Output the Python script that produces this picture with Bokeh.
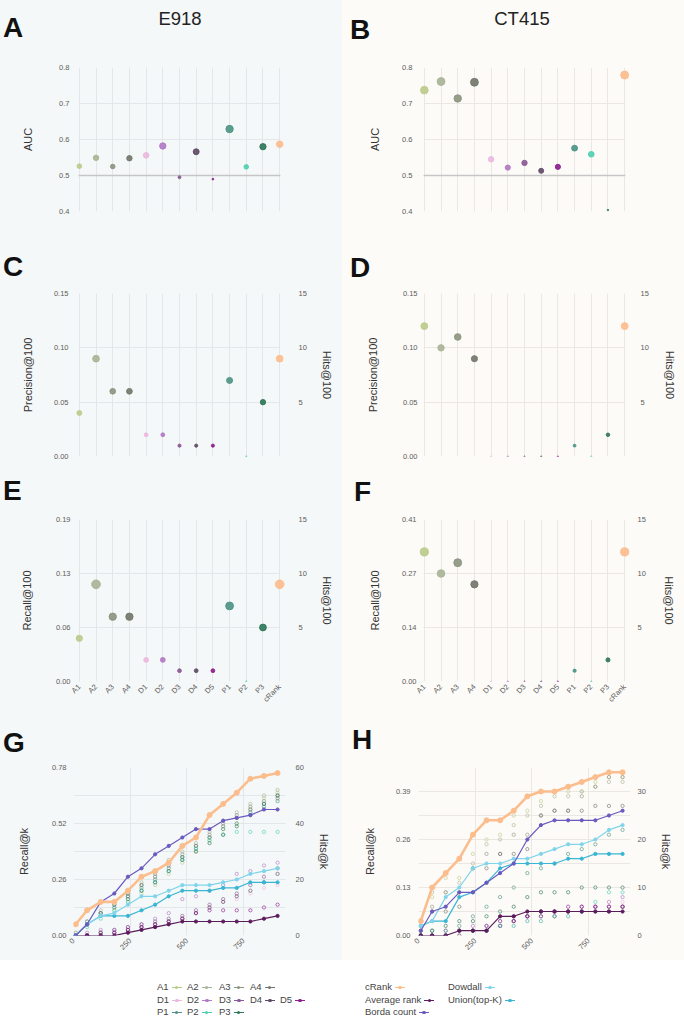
import math
from bokeh.plotting import figure
from bokeh.models import Range1d, LinearAxis, FixedTicker, Span, Div, ColumnDataSource, BoxAnnotation
from bokeh.layouts import row, column
from bokeh.embed import file_html
from bokeh.resources import INLINE

# ---------------- data ----------------
methods = ["A1", "A2", "A3", "A4", "D1", "D2", "D3", "D4", "D5", "P1", "P2", "P3", "cRank"]
method_colors = ["#bccb8c", "#a8b496", "#8d9580", "#73776b", "#ebb9de", "#b27ac6", "#8b5896",
                 "#5f4b66", "#8c1f8d", "#4e9585", "#4fd0b0", "#2f7759", "#fcbd8d"]

auc_e918 = [0.526, 0.549, 0.525, 0.548, 0.556, 0.582, 0.495, 0.566, 0.490, 0.629, 0.524, 0.580, 0.587]
auc_ct415 = [0.737, 0.761, 0.714, 0.759, 0.545, 0.522, 0.535, 0.513, 0.524, 0.576, 0.559, 0.404, 0.779]
hits100_e918 = [4, 9, 6, 6, 2, 2, 1, 1, 1, 7, 0, 5, 9]
hits100_ct415 = [12, 10, 11, 9, 0, 0, 0, 0, 0, 1, 0, 2, 12]

auc_ticks = [0.4, 0.5, 0.6, 0.7, 0.8]
AUC_CHANCE = 0.5
hits100_ticks = [0, 5, 10, 15]
hits100_right_ticks = [5, 10, 15]
precision_labels = ["0.00", "0.05", "0.10", "0.15"]
recall100_labels_e918 = ["0.00", "0.06", "0.13", "0.19"]
recall100_labels_ct415 = ["0.00", "0.14", "0.27", "0.41"]

k_values = [10, 60, 120, 180, 240, 300, 360, 420, 480, 540, 600, 660, 720, 780, 840, 900]
k_ticks = [0, 250, 500, 750]

# E918 hits@k
crank_g = [4, 9, 12, 12, 16, 21, 23, 26, 32, 35, 43, 47, 51, 56, 57, 58]
borda_g = [0, 4, 12, 15, 21, 24, 29, 32, 35, 38, 38, 41, 42, 43, 45, 45]
dowdall_g = [0, 4, 7, 8, 11, 14, 14, 16, 18, 18, 18, 19, 20, 22, 23, 24]
union_g = [0, 4, 7, 7, 7, 9, 11, 14, 16, 16, 16, 17, 17, 19, 19, 19]
avgrank_g = [0, 0, 0, 0, 1, 2, 3, 4, 5, 5, 5, 5, 5, 5, 6, 7]
a1_g = [1, 4, 7, 9, 12, 15, 18, 22, 26, 30, 34, 38, 40, 45, 49, 51]
a2_g = [1, 5, 9, 12, 15, 19, 23, 27, 30, 33, 37, 41, 44, 47, 50, 52]
a3_g = [0, 4, 8, 11, 14, 18, 22, 26, 29, 32, 36, 40, 43, 46, 48, 50]
a4_g = [0, 4, 8, 12, 15, 18, 21, 25, 28, 32, 35, 39, 42, 45, 47, 49]
d1_g = [0, 0, 1, 1, 2, 3, 4, 5, 6, 8, 10, 12, 13, 15, 17, 18]
d2_g = [0, 1, 2, 2, 3, 4, 6, 8, 13, 14, 16, 18, 22, 23, 25, 26]
d3_g = [0, 0, 1, 2, 3, 4, 5, 6, 7, 9, 11, 13, 15, 18, 21, 24]
d4_g = [0, 0, 1, 1, 2, 3, 4, 5, 6, 8, 10, 12, 14, 16, 19, 22]
d5_g = [0, 0, 0, 1, 2, 3, 4, 5, 6, 8, 9, 9, 9, 9, 10, 11]
p1_g = [0, 5, 8, 11, 14, 17, 20, 24, 28, 31, 35, 38, 40, 44, 46, 48]
p2_g = [0, 3, 6, 9, 12, 16, 19, 23, 27, 31, 34, 36, 37, 37, 37, 37]
p3_g = [0, 4, 7, 10, 13, 16, 19, 23, 27, 30, 33, 36, 39, 43, 47, 50]

# CT415 hits@k
crank_h = [3, 10, 13, 16, 21, 24, 24, 26, 29, 30, 30, 31, 32, 33, 34, 34]
borda_h = [1, 5, 6, 9, 9, 11, 13, 15, 20, 23, 24, 24, 24, 24, 25, 26]
dowdall_h = [2, 3, 8, 10, 14, 15, 15, 16, 16, 17, 18, 19, 19, 20, 22, 23]
union_h = [2, 3, 3, 8, 9, 11, 14, 15, 15, 15, 15, 16, 16, 17, 17, 17]
avgrank_h = [0, 0, 0, 1, 1, 1, 4, 4, 5, 5, 5, 5, 5, 5, 5, 5]
a1_h = [2, 8, 12, 12, 17, 20, 21, 25, 26, 28, 30, 30, 30, 32, 33, 33]
a2_h = [1, 9, 9, 11, 15, 19, 20, 23, 25, 27, 29, 29, 30, 31, 32, 32]
a3_h = [1, 6, 9, 9, 14, 17, 17, 21, 21, 25, 26, 26, 29, 31, 33, 33]
a4_h = [1, 5, 5, 6, 14, 14, 17, 17, 18, 25, 26, 26, 26, 27, 27, 27]
d1_h = [0, 0, 0, 0, 1, 2, 2, 2, 3, 3, 4, 4, 5, 6, 6, 7]
d2_h = [0, 0, 1, 1, 2, 2, 3, 3, 4, 4, 5, 5, 5, 6, 7, 8]
d3_h = [0, 0, 0, 1, 1, 2, 3, 4, 4, 5, 5, 5, 6, 6, 6, 6]
d4_h = [0, 0, 0, 0, 1, 1, 2, 3, 4, 4, 4, 5, 5, 5, 5, 6]
d5_h = [0, 0, 0, 1, 1, 1, 2, 3, 4, 5, 5, 6, 6, 6, 6, 6]
p1_h = [0, 1, 1, 2, 4, 6, 8, 10, 13, 14, 15, 17, 18, 19, 21, 22]
p2_h = [0, 0, 0, 1, 1, 1, 2, 2, 3, 3, 4, 4, 5, 7, 9, 9]
p3_h = [0, 1, 2, 3, 3, 4, 5, 6, 8, 9, 9, 9, 10, 10, 10, 10]

hitsk_ticks_e918 = [0, 20, 40, 60]
hitsk_minor_e918 = [10, 30, 50]
recallk_labels_e918 = ["0.00", "0.26", "0.52", "0.78"]
hitsk_ticks_ct415 = [0, 10, 20, 30]
hitsk_minor_ct415 = [5, 15, 25, 35]
recallk_labels_ct415 = ["0.00", "0.13", "0.26", "0.39"]

agg_names = ["cRank", "Average rank", "Borda count", "Dowdall", "Union(top-K)"]
agg_colors = ["#fcbd8d", "#5b1c5c", "#6a5abf", "#80d5ec", "#3ab6d4"]

# ---------------- style ----------------
FONT = "Liberation Sans"
BG_L = "#f5f8f8"
BG_R = "#fdfbf8"
GRID_L = "#e3e7e9"
GRID_R = "#ebe8e4"
TICK_C = "#5c5c5c"
LABEL_C = "#333333"
COL_W = 342
PAD = 0.35


def dot_sizes(vals, dmin, dmax):
    lo, hi = min(vals), max(vals)
    return [dmin + (dmax - dmin) * math.sqrt((v - lo) / (hi - lo)) for v in vals]


def style_axis(ax, standoff, label_standoff):
    ax.axis_line_color = None
    ax.major_tick_line_color = None
    ax.minor_tick_line_color = None
    ax.major_tick_out = 0
    ax.major_tick_in = 0
    ax.minor_tick_out = 0
    ax.minor_tick_in = 0
    ax.major_label_standoff = standoff
    ax.axis_label_standoff = label_standoff
    ax.major_label_text_font = FONT
    ax.major_label_text_font_size = "7.5px"
    ax.major_label_text_color = TICK_C
    ax.axis_label_text_font = FONT
    ax.axis_label_text_font_size = "11px"
    ax.axis_label_text_font_style = "normal"
    ax.axis_label_text_color = LABEL_C


def base_fig(height, bl, br, bt, bb, xr, yr, bg, grid):
    p = figure(width=COL_W, height=height, x_range=xr, y_range=yr, output_backend="svg",
               toolbar_location=None, min_border_left=bl, min_border_right=br,
               min_border_top=bt, min_border_bottom=bb, background_fill_color=bg,
               border_fill_color=bg, outline_line_color=None, styles={"background-color": bg})
    p.xgrid.grid_line_color = grid
    p.ygrid.grid_line_color = grid
    p.xgrid.grid_line_width = 1
    p.ygrid.grid_line_width = 1
    return p


def mask_edges(p, xr, yr, bg):
    n = len(methods) - 1
    p.add_layout(BoxAnnotation(left=xr.start - 1, right=-0.045, bottom=yr.start, top=yr.end,
                               fill_color=bg, fill_alpha=1, line_color=None, level="underlay"))
    p.add_layout(BoxAnnotation(left=n + 0.045, right=xr.end + 1, bottom=yr.start, top=yr.end,
                               fill_color=bg, fill_alpha=1, line_color=None, level="underlay"))


def cat_x(p):
    xs = list(range(len(methods)))
    p.xaxis.ticker = FixedTicker(ticks=xs)
    p.xgrid.ticker = FixedTicker(ticks=xs)
    p.xaxis.major_label_overrides = {i: m for i, m in enumerate(methods)}
    return xs


def auc_panel(vals, bg, grid, bl, br, ls, als, dmin, dmax):
    xr = Range1d(-PAD, len(methods) - 1 + PAD)
    yr = Range1d(auc_ticks[0], auc_ticks[-1])
    p = base_fig(160, bl, br, 8, 8, xr, yr, bg, grid)
    xs = cat_x(p)
    p.xaxis.visible = False
    p.yaxis.ticker = FixedTicker(ticks=auc_ticks)
    p.ygrid.ticker = FixedTicker(ticks=auc_ticks)
    p.yaxis.axis_label = "AUC"
    style_axis(p.yaxis[0], ls, als)
    p.add_layout(Span(location=AUC_CHANCE, dimension="width", line_color="#c6c6c6",
                      line_width=1.3, level="underlay"))
    mask_edges(p, xr, yr, bg)
    src = ColumnDataSource(dict(x=xs, y=vals, c=method_colors, s=dot_sizes(vals, dmin, dmax)))
    p.scatter("x", "y", size="s", fill_color="c", line_color="c", fill_alpha=0.92,
              line_alpha=0.92, source=src)
    return p


def hits_panel(vals, bg, grid, left_labels, ylabel, show_x, height, bt, bb,
               bl, br, ls, als, rs, rals, dmin, dmax):
    xr = Range1d(-PAD, len(methods) - 1 + PAD)
    yr = Range1d(hits100_ticks[0], hits100_ticks[-1])
    p = base_fig(height, bl, br, bt, bb, xr, yr, bg, grid)
    xs = cat_x(p)
    if show_x:
        xa = p.xaxis[0]
        style_axis(xa, 4, 0)
        xa.major_label_orientation = math.pi / 4
    else:
        p.xaxis.visible = False
    p.yaxis.ticker = FixedTicker(ticks=hits100_ticks)
    p.ygrid.ticker = FixedTicker(ticks=hits100_ticks)
    p.yaxis.major_label_overrides = dict(zip(hits100_ticks, left_labels))
    p.yaxis.axis_label = ylabel
    style_axis(p.yaxis[0], ls, als)
    ra = LinearAxis(ticker=FixedTicker(ticks=hits100_right_ticks), axis_label="Hits@100")
    style_axis(ra, rs, rals)
    p.add_layout(ra, "right")
    mask_edges(p, xr, yr, bg)
    src = ColumnDataSource(dict(x=xs, y=vals, c=method_colors, s=dot_sizes(vals, dmin, dmax)))
    p.scatter("x", "y", size="s", fill_color="c", line_color="c", fill_alpha=0.92,
              line_alpha=0.92, source=src)
    return p


def k_panel(method_series, agg_series, ticks, minor, labels, bg, grid, bl, br, ls, als, rs, rals):
    xr = Range1d(0, 935)
    yr = Range1d(0, max(ticks + minor))
    p = base_fig(201, bl, br, 8, 25, xr, yr, bg, grid)
    p.xaxis.ticker = FixedTicker(ticks=k_ticks)
    p.xgrid.ticker = FixedTicker(ticks=k_ticks)
    xa = p.xaxis[0]
    style_axis(xa, 4, 0)
    xa.major_label_orientation = math.pi / 4
    p.yaxis.ticker = FixedTicker(ticks=ticks, minor_ticks=minor)
    p.ygrid.ticker = FixedTicker(ticks=ticks, minor_ticks=minor)
    p.ygrid.minor_grid_line_color = grid
    p.yaxis.major_label_overrides = dict(zip(ticks, labels))
    p.yaxis.axis_label = "Recall@k"
    style_axis(p.yaxis[0], ls, als)
    ra = LinearAxis(ticker=FixedTicker(ticks=ticks), axis_label="Hits@k")
    style_axis(ra, rs, rals)
    p.add_layout(ra, "right")
    # individual methods as small open dots
    xs, ys, cs = [], [], []
    for series, col in zip(method_series, method_colors[:-1]):
        xs += k_values
        ys += series
        cs += [col] * len(series)
    p.scatter(x=xs, y=ys, size=3.3, fill_color=None, line_color=cs, line_width=0.8, line_alpha=0.8)
    # aggregators, drawn with cRank last
    order = [1, 4, 3, 2, 0]
    for i in order:
        ser = agg_series[i]
        col = agg_colors[i]
        if i == 0:
            p.line(k_values, ser, line_color=col, line_width=2.6)
            p.scatter(k_values, ser, size=5, fill_color=col, line_color=col)
        else:
            p.line(k_values, ser, line_color=col, line_width=1.2)
            p.scatter(k_values, ser, size=3.2, fill_color=col, line_color=col)
    return p


def letter_span(letter, left, top):
    return (f'<span style="position:absolute;left:{left}px;top:{top}px;font-family:\'{FONT}\';'
            f'font-size:28px;line-height:28px;font-weight:bold;color:#111111;">{letter}</span>')


def title_span(text, center, top):
    return (f'<span style="position:absolute;left:{center - 60}px;top:{top}px;width:120px;'
            f'text-align:center;font-family:\'{FONT}\';font-size:18.5px;line-height:20px;'
            f'color:#222222;">{text}</span>')


def block(content, h, bg, w=COL_W):
    return Div(text=f'<div style="position:relative;width:{w}px;height:{h}px;overflow:visible;">{content}</div>',
               width=w, height=h, margin=0, styles={"background-color": bg})


# ---------------- left column (E918) ----------------
figA = auc_panel(auc_e918, BG_L, GRID_L, 70, 57, 4, 22, 1.8, 7.4)
figC = hits_panel(hits100_e918, BG_L, GRID_L, precision_labels, "Precision@100", False, 177, 8, 6,
                  70, 57, 5, 17, 13, 11, 1.3, 6.7)
figE = hits_panel(hits100_e918, BG_L, GRID_L, recall100_labels_e918, "Recall@100", True, 198, 6, 30,
                  70, 57, 3, 20, 13, 11, 1.3, 8.7)
figG = k_panel([a1_g, a2_g, a3_g, a4_g, d1_g, d2_g, d3_g, d4_g, d5_g, p1_g, p2_g, p3_g],
               [crank_g, avgrank_g, borda_g, dowdall_g, union_g],
               hitsk_ticks_e918, hitsk_minor_e918, recallk_labels_e918, BG_L, GRID_L,
               73, 54, 7, 19, 10, 11)

left_col = column(
    block(letter_span("A", 3, 14) + title_span("E918", 180, 9), 59, BG_L),
    figA,
    block(letter_span("C", 3, 34), 66, BG_L),
    figC,
    block(letter_span("E", 3, 15), 51, BG_L),
    figE,
    block(letter_span("G", 3, 18), 48, BG_L),
    figG,
    spacing=0,
    styles={"background-color": BG_L},
)

# ---------------- right column (CT415) ----------------
figB = auc_panel(auc_ct415, BG_R, GRID_R, 72, 54, 6, 18, 1.5, 8.0)
figD = hits_panel(hits100_ct415, BG_R, GRID_R, precision_labels, "Precision@100", False, 177, 8, 6,
                  72, 54, 1, 21, 10, 12, 1.2, 6.9)
figF = hits_panel(hits100_ct415, BG_R, GRID_R, recall100_labels_ct415, "Recall@100", True, 198, 6, 30,
                  72, 54, 2, 18, 7, 14, 1.2, 8.2)
figH = k_panel([a1_h, a2_h, a3_h, a4_h, d1_h, d2_h, d3_h, d4_h, d5_h, p1_h, p2_h, p3_h],
               [crank_h, avgrank_h, borda_h, dowdall_h, union_h],
               hitsk_ticks_ct415, hitsk_minor_ct415, recallk_labels_ct415, BG_R, GRID_R,
               76, 52, 8, 17, 7, 11)

right_col = column(
    block(letter_span("B", 8, 16) + title_span("CT415", 180, 9), 59, BG_R),
    figB,
    block(letter_span("D", 8, 35), 66, BG_R),
    figD,
    block(letter_span("F", 12, 16), 51, BG_R),
    figF,
    block(letter_span("H", 10, 15), 48, BG_R),
    figH,
    spacing=0,
    styles={"background-color": BG_R},
)

# ---------------- legend ----------------
def key(color):
    return (f'<span style="display:inline-block;position:relative;width:10px;height:1.3px;'
            f'background:{color};vertical-align:middle;margin-left:3px;">'
            f'<span style="position:absolute;left:3.2px;top:-1.1px;width:3.6px;height:3.6px;'
            f'border-radius:50%;background:{color};"></span></span>')


def item(label, color, left, top):
    return (f'<span style="position:absolute;left:{left}px;top:{top}px;font-family:\'{FONT}\';'
            f'font-size:9.5px;line-height:12px;white-space:nowrap;color:#444444;">{label}{key(color)}</span>')


legend_rows_top = [21, 34, 46]
method_cols_left = [157, 187, 219, 250, 280]
method_rows = [[0, 1, 2, 3], [4, 5, 6, 7, 8], [9, 10, 11]]
agg_cols_left = [365, 448]
agg_layout = [(0, 0), (0, 1), (0, 2), (1, 0), (1, 1)]

legend_html = ""
for r, idxs in enumerate(method_rows):
    for c, i in enumerate(idxs):
        legend_html += item(methods[i], method_colors[i], method_cols_left[c], legend_rows_top[r])
for (c, r), name, col in zip(agg_layout, agg_names, agg_colors):
    legend_html += item(name, col, agg_cols_left[c], legend_rows_top[r])

legend_div = block(legend_html, 59, "#ffffff", w=2 * COL_W)

layout = column(row(left_col, right_col, spacing=0), legend_div, spacing=0)

open("out.html", "w").write(file_html(layout, INLINE))
